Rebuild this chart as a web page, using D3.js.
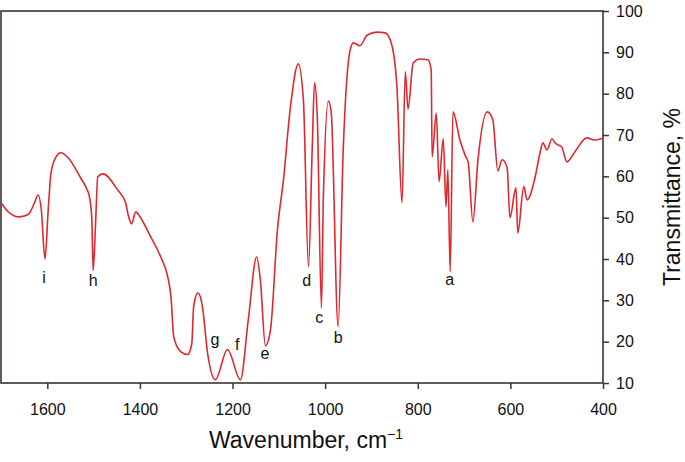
<!DOCTYPE html>
<html>
<head>
<meta charset="utf-8">
<script src="https://cdn.jsdelivr.net/npm/d3@7/dist/d3.min.js"></script>
<style>
  body { margin: 0; background: #fff; }
  text { font-family: "Liberation Sans", Arial, sans-serif; fill: #111; }
</style>
</head>
<body>
<svg id="chart" width="685" height="462"></svg>
<script>
// IR spectrum (wavenumber cm-1, transmittance %)
let wavenumbers = [1700, 1685, 1663, 1650, 1640, 1628, 1620, 1613, 1605, 1598, 1592, 1582, 1571, 1555,
  1528, 1515, 1509, 1504, 1501, 1496, 1491, 1480, 1448, 1431, 1425, 1418, 1409, 1400, 1377, 1355, 1340,
  1333, 1327, 1312, 1297, 1288, 1284, 1275, 1265, 1254, 1237, 1211, 1183, 1166, 1148, 1140, 1129, 1118,
  1103, 1090, 1075, 1058, 1047, 1036, 1028, 1023, 1017, 1008, 1004, 993, 987, 972, 961, 946, 939, 925,
  909, 888, 870, 855, 845, 834, 827, 821, 810, 795, 778, 771, 769, 760, 754, 745, 739, 735, 730, 724,
  709, 698, 691, 681, 670, 650, 638, 627, 618, 607, 601, 588, 584, 571, 564, 547, 536, 530, 521, 510,
  504, 489, 478, 461, 435, 418, 400];
let transmittance = [53.6, 51.5, 50.2, 50.4, 50.9, 53.5, 55.5, 52, 40, 52, 60.8, 64.5, 65.7, 64.5,
  59.6, 57, 55, 50, 37.2, 48, 59.9, 60.6, 56.7, 53.6, 50.5, 48.5, 51.4, 50.2, 45.4, 40.5, 35.7,
  30.9, 21.2, 17.6, 16.9, 19.5, 28.5, 31.8, 28.5, 17.3, 10.8, 18.1, 10.8, 25.3, 40.5, 35, 19, 22.9,
  47.1, 59.2, 76.8, 87.2, 78.5, 38.1, 66.4, 82.6, 74.4, 28.2, 54.3, 78.2, 75.6, 23.6, 66.4, 90.6, 92.3, 91.6,
  94.2, 94.9, 94.7, 91.3, 81.6, 53.6, 85.3, 76.3, 87.4, 88.4, 88.2, 85.7, 64.7, 75.3, 58.7, 69.1, 52.6, 61.6, 36.9, 75.6,
  68.8, 65.2, 63.3, 49, 64, 75.6, 73.7, 61.3, 64, 62.1, 50, 57.2, 46.3, 57.5, 54.3, 59.6, 65.7, 68.1, 66.4, 69.1,
  68.1, 67.1, 63.5, 65.9, 69.3, 68.8, 69.3];

// band labels and where they sit (wavenumber, transmittance)
let bandLetters = ["i", "h", "g", "f", "e", "d", "c", "b", "a"];
let bandWn = [1607, 1501, 1238, 1190, 1130, 1040, 1013, 972, 731];
let bandT = [34.1, 33.4, 19.2, 18.0, 15.8, 33.4, 24.5, 19.7, 33.7];

let xTicks = [1600, 1400, 1200, 1000, 800, 600, 400];
let yTicks = [10, 20, 30, 40, 50, 60, 70, 80, 90, 100];

let svg = d3.select("#chart");
let plotLeft = 1, plotRight = 603, plotTop = 11, plotBottom = 383;
let frameColor = "#3b3532";

let xScale = d3.scaleLinear().domain([1700, 400]).range([plotLeft, plotRight]);
let yScale = d3.scaleLinear().domain([10, 100]).range([plotBottom, plotTop]);

let data = wavenumbers.map(function (w, i) { return { wn: w, t: transmittance[i] }; });

// frame
svg.append("rect")
  .attr("x", plotLeft)
  .attr("y", plotTop)
  .attr("width", plotRight - plotLeft)
  .attr("height", plotBottom - plotTop)
  .attr("fill", "none")
  .attr("stroke", frameColor)
  .attr("stroke-width", 1.6);

// spectrum line
let line = d3.line()
  .x(d => xScale(d.wn))
  .y(d => yScale(d.t))
  .curve(d3.curveMonotoneX);

svg.append("path")
  .datum(data)
  .attr("d", line)
  .attr("fill", "none")
  .attr("stroke", "#e0282e")
  .attr("stroke-width", 1.6);

// axes
let xAxis = d3.axisBottom(xScale).tickValues(xTicks).tickFormat(d3.format("d"))
  .tickSize(6).tickSizeOuter(0);
let gx = svg.append("g")
  .attr("transform", "translate(0," + plotBottom + ")")
  .call(xAxis);
gx.select(".domain").remove();
gx.selectAll("line").attr("stroke", frameColor).attr("stroke-width", 1.5);
gx.selectAll("text")
  .attr("y", 21)
  .attr("dy", "0.71em")
  .style("font-size", "16px")
  .style("font-family", "Liberation Sans, Arial, sans-serif")
  .attr("fill", "#111");

let yAxis = d3.axisRight(yScale).tickValues(yTicks).tickSize(6).tickSizeOuter(0);
let gy = svg.append("g")
  .attr("transform", "translate(" + plotRight + ",0)")
  .call(yAxis);
gy.select(".domain").remove();
gy.selectAll("line").attr("stroke", frameColor).attr("stroke-width", 1.5);
gy.selectAll("text")
  .attr("x", 13)
  .style("font-size", "16px")
  .style("font-family", "Liberation Sans, Arial, sans-serif")
  .attr("fill", "#111");

// band letters
svg.selectAll(".band")
  .data(bandLetters)
  .enter().append("text")
  .attr("class", "band")
  .attr("x", (d, i) => xScale(bandWn[i]))
  .attr("y", (d, i) => yScale(bandT[i]))
  .attr("text-anchor", "middle")
  .style("font-size", "16px")
  .text(d => d);

// axis titles
let xTitle = svg.append("text")
  .attr("x", 306)
  .attr("y", 448)
  .attr("text-anchor", "middle")
  .style("font-size", "23px");
xTitle.append("tspan").text("Wavenumber, cm");
xTitle.append("tspan").attr("dy", -9).style("font-size", "14px").text("\u22121");

svg.append("text")
  .attr("transform", "translate(680," + ((plotTop + plotBottom) / 2) + ") rotate(-90)")
  .attr("text-anchor", "middle")
  .style("font-size", "23px")
  .text("Transmittance, %");
</script>
</body>
</html>
